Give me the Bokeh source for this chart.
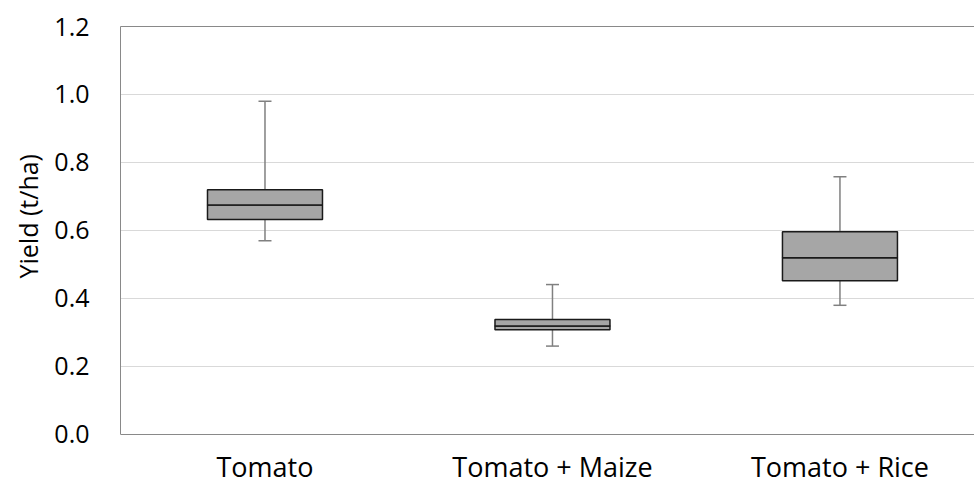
from bokeh.plotting import figure
from bokeh.models import Range1d, FixedTicker, ColumnDataSource, LinearAxis, Title
from bokeh.embed import file_html
from bokeh.resources import INLINE

categories = ["Tomato", "Tomato + Maize", "Tomato + Rice"]
whisker_min = [0.57, 0.26, 0.38]
q1 = [0.632, 0.308, 0.452]
median = [0.675, 0.319, 0.520]
q3 = [0.720, 0.338, 0.596]
whisker_max = [0.980, 0.441, 0.758]
y_ticks = [0.0, 0.2, 0.4, 0.6, 0.8, 1.0, 1.2]

FONT = "Open Sans"
pos = list(range(len(categories)))
src = ColumnDataSource(dict(x=pos, lo=whisker_min, q1=q1, med=median, q3=q3, hi=whisker_max))

# frame spans the whole lower part of the canvas; the x axis sits at y = 0 inside it
p = figure(width=974, height=487, output_backend="svg", toolbar_location=None,
           x_range=Range1d(-0.5026, 2.468), y_range=Range1d(-0.1559, 1.2),
           min_border_left=120, min_border_right=0, min_border_top=26, min_border_bottom=0)

p.background_fill_color = "white"
p.border_fill_color = "white"
p.outline_line_color = None

# grid
p.xgrid.grid_line_color = None
p.ygrid.grid_line_color = "#d9d9d9"
p.ygrid.grid_line_width = 1
p.ygrid.ticker = FixedTicker(ticks=y_ticks)

# whiskers
p.segment(x0="x", y0="q3", x1="x", y1="hi", source=src, line_color="#808080", line_width=1.5)
p.segment(x0="x", y0="lo", x1="x", y1="q1", source=src, line_color="#808080", line_width=1.5)
p.scatter(x="x", y="hi", source=src, marker="dash", size=13, line_color="#808080", line_width=1.5)
p.scatter(x="x", y="lo", source=src, marker="dash", size=13, line_color="#808080", line_width=1.5)

# boxes
p.vbar(x="x", width=0.4, bottom="q1", top="med", source=src,
       fill_color="#a6a6a6", line_color="#1a1a1a", line_width=1.5)
p.vbar(x="x", width=0.4, bottom="med", top="q3", source=src,
       fill_color="#a6a6a6", line_color="#1a1a1a", line_width=1.5)

# top border line
top_axis = LinearAxis(ticker=FixedTicker(ticks=[]), axis_line_color="#898989",
                      major_tick_line_color=None, minor_tick_line_color=None,
                      major_tick_out=0, major_tick_in=0, minor_tick_out=0, minor_tick_in=0)
p.add_layout(top_axis, "above")

# y axis
p.yaxis.ticker = FixedTicker(ticks=y_ticks)
p.yaxis.bounds = (0, 1.2)
p.yaxis.major_label_overrides = {t: f"{t:.1f}" for t in y_ticks}
p.yaxis.axis_line_color = "#898989"
p.yaxis.major_tick_line_color = None
p.yaxis.minor_tick_line_color = None
p.yaxis.major_tick_out = 0
p.yaxis.major_label_standoff = 31
p.yaxis.major_label_text_font = FONT
p.yaxis.major_label_text_font_size = "25px"
p.yaxis.major_label_text_color = "#000000"

# y axis title, centred on the 0 - 1.2 span
p.add_layout(Title(text="Yield (t/ha)", align="left", offset=209, standoff=14,
                   text_font=FONT, text_font_size="25px", text_font_style="normal",
                   text_color="#000000"), "left")

# x axis at y = 0
xax = p.below[0]
xax.fixed_location = 0
xax.ticker = FixedTicker(ticks=pos)
xax.major_label_overrides = {i: c for i, c in zip(pos, categories)}
xax.axis_line_color = "#898989"
xax.major_tick_line_color = None
xax.minor_tick_line_color = None
xax.major_tick_out = 0
xax.major_tick_in = 0
xax.major_label_standoff = 14
xax.major_label_text_font = FONT
xax.major_label_text_font_size = "27px"
xax.major_label_text_color = "#000000"

open("out.html", "w").write(file_html(p, INLINE))
